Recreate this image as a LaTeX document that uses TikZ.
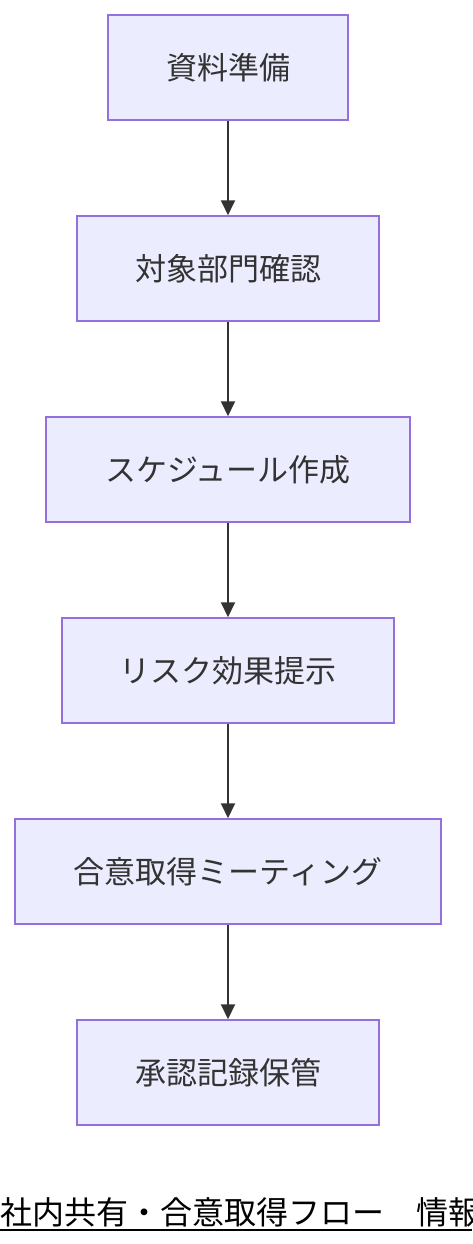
\documentclass[tikz,border=0pt]{standalone}
\usepackage{fontspec}
\setmainfont{Noto Sans CJK JP}
\usetikzlibrary{arrows.meta}
\definecolor{boxfill}{HTML}{ECECFF}
\definecolor{boxline}{HTML}{9370DB}
\definecolor{ink}{HTML}{333333}
\begin{document}
\begin{tikzpicture}[x=1pt,y=-1pt,
  stepbox/.style={draw=boxline,fill=boxfill,line width=1.5pt,text=ink,font=\fontsize{31}{34}\selectfont,inner sep=0pt},
  flow/.style={draw=ink,line width=2pt,-{Triangle[length=15pt,width=14pt]}}]
\useasboundingbox (0,0) rectangle (472,1244);
\clip (0,0) rectangle (472,1244);
\node[stepbox,minimum width=240pt,minimum height=105pt] (a) at (228,67.5) {資料準備};
\node[stepbox,minimum width=302pt,minimum height=105pt] (b) at (228,268.5) {対象部門確認};
\node[stepbox,minimum width=364pt,minimum height=105pt] (c) at (228,469.5) {スケジュール作成};
\node[stepbox,minimum width=332pt,minimum height=105pt] (d) at (228,670.5) {リスク効果提示};
\node[stepbox,minimum width=426pt,minimum height=105pt] (e) at (228,871.5) {合意取得ミーティング};
\node[stepbox,minimum width=302pt,minimum height=105pt] (f) at (228,1072.5) {承認記録保管};
\draw[flow] (a) -- (b);
\draw[flow] (b) -- (c);
\draw[flow] (c) -- (d);
\draw[flow] (d) -- (e);
\draw[flow] (e) -- (f);
\node[anchor=base west,inner sep=0pt,font=\fontsize{32}{34}\selectfont,text=black] (t) at (0,1224) {社内共有・合意取得フロー　情報};
\coordinate (u1) at (0,1229.5);
\coordinate (u2) at (472,1229.5);
\draw[black,line width=2pt] (u1) -- (u2);
\end{tikzpicture}
\end{document}
